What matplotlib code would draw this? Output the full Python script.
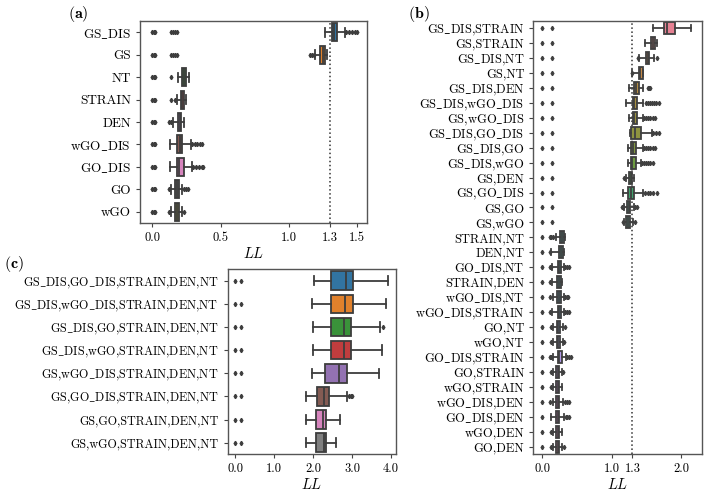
import numpy as np
import matplotlib
matplotlib.use("Agg")
import matplotlib.pyplot as plt
import colorsys
import seaborn as sns

plt.rcParams['font.family'] = ['cmr10', 'DejaVu Serif']
plt.rcParams['mathtext.fontset'] = 'cm'
plt.rcParams['axes.formatter.use_mathtext'] = True

# ---- panel (a): single features ----
a_labels = ["GS_DIS", "GS", "NT", "STRAIN", "DEN", "wGO_DIS", "GO_DIS", "GO", "wGO"]
a_lo = [1.26, 1.19, 0.19, 0.18, 0.155, 0.13, 0.13, 0.135, 0.14]
a_q1 = [1.317, 1.23, 0.215, 0.21, 0.19, 0.18, 0.18, 0.165, 0.165]
a_med = [1.33, 1.245, 0.23, 0.22, 0.20, 0.20, 0.195, 0.18, 0.18]
a_q3 = [1.35, 1.26, 0.245, 0.23, 0.21, 0.22, 0.23, 0.195, 0.195]
a_hi = [1.41, 1.28, 0.27, 0.25, 0.23, 0.28, 0.29, 0.22, 0.215]
a_low_fliers = [0.0, 0.01, 0.02]
a_fliers = [
    [0.135, 0.15, 0.165, 0.18, 1.42, 1.44, 1.46, 1.48, 1.495],
    [0.135, 0.15, 0.165, 0.18, 1.15, 1.165, 1.18],
    [0.135],
    [0.135, 0.165],
    [0.12, 0.14],
    [0.29, 0.31, 0.33, 0.35, 0.36],
    [0.30, 0.32, 0.34, 0.36, 0.37],
    [0.125, 0.235, 0.25, 0.26],
    [0.125, 0.23],
]

# ---- panel (b): pairs ----
b_labels = ["GS_DIS,STRAIN", "GS,STRAIN", "GS_DIS,NT", "GS,NT", "GS_DIS,DEN",
            "GS_DIS,wGO_DIS", "GS,wGO_DIS", "GS_DIS,GO_DIS", "GS_DIS,GO",
            "GS_DIS,wGO", "GS,DEN", "GS,GO_DIS", "GS,GO", "GS,wGO",
            "STRAIN,NT", "DEN,NT", "GO_DIS,NT", "STRAIN,DEN", "wGO_DIS,NT",
            "wGO_DIS,STRAIN", "GO,NT", "wGO,NT", "GO_DIS,STRAIN", "GO,STRAIN",
            "wGO,STRAIN", "wGO_DIS,DEN", "GO_DIS,DEN", "wGO,DEN", "GO,DEN"]
b_lo = [1.595, 1.475, 1.39, 1.30, 1.257, 1.21, 1.25, 1.27, 1.23, 1.23, 1.205,
        1.17, 1.18, 1.18,
        0.19, 0.126, 0.145, 0.135, 0.16, 0.135, 0.16, 0.16, 0.16, 0.16, 0.16,
        0.15, 0.12, 0.16, 0.15]
b_q1 = [1.75, 1.575, 1.49, 1.39, 1.325, 1.305, 1.305, 1.277, 1.277, 1.277, 1.253,
        1.243, 1.22, 1.21,
        0.256, 0.24, 0.22, 0.215, 0.215, 0.23, 0.205, 0.205, 0.22, 0.20, 0.195,
        0.20, 0.20, 0.195, 0.20]
b_med = [1.80, 1.595, 1.52, 1.41, 1.355, 1.33, 1.33, 1.34, 1.31, 1.30, 1.277,
         1.277, 1.245, 1.24,
         0.28, 0.265, 0.245, 0.24, 0.245, 0.245, 0.23, 0.23, 0.245, 0.22, 0.22,
         0.22, 0.22, 0.22, 0.22]
b_q3 = [1.91, 1.62, 1.545, 1.45, 1.39, 1.37, 1.37, 1.42, 1.35, 1.35, 1.30,
        1.33, 1.27, 1.265,
        0.31, 0.295, 0.27, 0.265, 0.27, 0.27, 0.255, 0.255, 0.28, 0.245, 0.24,
        0.245, 0.245, 0.24, 0.245]
b_hi = [2.15, 1.65, 1.605, 1.46, 1.45, 1.46, 1.45, 1.58, 1.45, 1.42, 1.325,
        1.46, 1.32, 1.31,
        0.328, 0.31, 0.315, 0.28, 0.315, 0.315, 0.30, 0.30, 0.34, 0.29, 0.28,
        0.30, 0.315, 0.28, 0.29]
b_fliers = [
    [0.0, 0.145], [0.0, 0.145], [0.0, 0.145, 1.38, 1.65], [0.0, 0.145, 1.29],
    [0.0, 0.145, 1.52, 1.545, 1.56],
    [0.0, 0.145, 1.49, 1.52, 1.55, 1.58, 1.61, 1.64, 1.68],
    [0.0, 0.145, 1.47, 1.50, 1.53, 1.56, 1.60, 1.63],
    [0.0, 0.145, 1.60, 1.64, 1.69],
    [0.0, 0.145, 1.47, 1.50, 1.53, 1.56, 1.59, 1.62],
    [0.0, 0.145, 1.44, 1.47, 1.50, 1.53, 1.56, 1.60],
    [0.0, 0.145, 1.185],
    [0.0, 0.145, 1.48, 1.52, 1.56, 1.60, 1.65],
    [0.0, 0.145, 1.15, 1.165, 1.34, 1.36],
    [0.0, 0.145, 1.16, 1.335],
    [0.0, 0.11, 0.13, 0.16], [0.0, 0.11], [0.0, 0.11, 0.125, 0.33, 0.355, 0.38],
    [0.0, 0.11], [0.0, 0.115, 0.33, 0.35, 0.37], [0.0, 0.11, 0.33, 0.36, 0.39],
    [0.0, 0.13, 0.32], [0.0, 0.13, 0.31], [0.0, 0.11, 0.13, 0.36, 0.385, 0.41],
    [0.0, 0.12, 0.305], [0.0, 0.12], [0.0, 0.11, 0.32, 0.35, 0.38],
    [0.0, 0.335, 0.36, 0.39], [0.0, 0.13], [0.0, 0.12, 0.31],
]

# ---- panel (c): five features ----
c_labels = ["GS_DIS,GO_DIS,STRAIN,DEN,NT", "GS_DIS,wGO_DIS,STRAIN,DEN,NT",
            "GS_DIS,GO,STRAIN,DEN,NT", "GS_DIS,wGO,STRAIN,DEN,NT",
            "GS,wGO_DIS,STRAIN,DEN,NT", "GS,GO_DIS,STRAIN,DEN,NT",
            "GS,GO,STRAIN,DEN,NT", "GS,wGO,STRAIN,DEN,NT"]
c_lo = [2.02, 1.98, 2.0, 2.0, 1.96, 1.81, 1.81, 1.81]
c_q1 = [2.45, 2.45, 2.45, 2.45, 2.30, 2.09, 2.07, 2.07]
c_med = [2.84, 2.82, 2.80, 2.80, 2.67, 2.28, 2.26, 2.27]
c_q3 = [3.03, 3.01, 2.96, 2.96, 2.88, 2.41, 2.33, 2.33]
c_hi = [3.93, 3.87, 3.72, 3.76, 3.69, 2.86, 2.70, 2.58]
c_fliers = [[0.0, 0.15], [0.0, 0.15], [0.0, 0.15, 3.79], [0.0, 0.15],
            [0.0, 0.15], [0.0, 0.15, 2.92, 2.96, 3.0], [0.0, 0.15], [0.0, 0.15]]


def box_colors(base):
    cols = [sns.desaturate(c, 0.75) for c in base]
    lum = min(colorsys.rgb_to_hls(*c)[1] for c in cols) * 0.6
    return cols, (lum, lum, lum)


def tex_label(s):
    # cmr10 has no underscore glyph, so draw it through mathtext
    return s.replace("_", r"$\_$")


def draw(ax, labels, lo, q1, med, q3, hi, fliers, colors, xlim, xticks, fs=9):
    cols, gray = box_colors(colors)
    stats = []
    for i in range(len(labels)):
        stats.append(dict(whislo=lo[i], q1=q1[i], med=med[i], q3=q3[i],
                          whishi=hi[i], fliers=fliers[i]))
    n = len(labels)
    lw = 1.3
    art = ax.bxp(stats, positions=np.arange(n), widths=0.8,
                 orientation='horizontal', patch_artist=True,
                 boxprops=dict(edgecolor=gray, linewidth=lw),
                 medianprops=dict(color=gray, linewidth=lw),
                 whiskerprops=dict(color=gray, linewidth=lw),
                 capprops=dict(color=gray, linewidth=lw),
                 flierprops=dict(marker='d', markersize=2.2, markerfacecolor=gray,
                                 markeredgecolor=gray, linestyle='none'))
    for patch, c in zip(art['boxes'], cols):
        patch.set_facecolor(c)
    ax.set_yticks(np.arange(n))
    ax.set_yticklabels([tex_label(l) for l in labels], fontsize=fs)
    ax.set_ylim(n - 0.5, -0.5)
    ax.set_xlim(*xlim)
    ax.set_xticks(xticks)
    ax.set_xticklabels([f"{t:.1f}" for t in xticks], fontsize=9)
    ax.set_xlabel(r"$LL$", fontsize=10.5, labelpad=1)
    ax.tick_params(length=3, color='#444444')
    for sp in ax.spines.values():
        sp.set_color('#555555')
        sp.set_linewidth(1.0)


fig = plt.figure(figsize=(7.08, 4.95), dpi=100)
ax_a = fig.add_axes([0.1977, 0.5495, 0.3206, 0.408])
ax_b = fig.add_axes([0.7533, 0.0828, 0.2378, 0.8754])
ax_c = fig.add_axes([0.3216, 0.0822, 0.2373, 0.3743])

tab = list(plt.get_cmap('tab10').colors)
draw(ax_a, a_labels, a_lo, a_q1, a_med, a_q3, a_hi,
     [a_low_fliers + f for f in a_fliers], tab[:9], (-0.09, 1.57),
     [0.0, 0.5, 1.0, 1.3, 1.5], 9.5)
draw(ax_b, b_labels, b_lo, b_q1, b_med, b_q3, b_hi, b_fliers,
     sns.husl_palette(len(b_labels)), (-0.13, 2.30), [0.0, 1.0, 1.3, 2.0])
draw(ax_c, c_labels, c_lo, c_q1, c_med, c_q3, c_hi, c_fliers, tab[:8],
     (-0.2, 4.12), [0.0, 1.0, 2.0, 3.0, 4.0], 8.75)

for ax in (ax_a, ax_b):
    ax.axvline(1.3, color='#333333', linestyle=':', linewidth=1.1, zorder=0)

fig.text(0.096, 0.972, r"$(\mathbf{a})$", fontsize=11.5, ha='left', va='center')
fig.text(0.576, 0.972, r"$(\mathbf{b})$", fontsize=11.5, ha='left', va='center')
fig.text(0.006, 0.466, r"$(\mathbf{c})$", fontsize=11.5, ha='left', va='center')

fig.savefig("out.png", dpi=100)
